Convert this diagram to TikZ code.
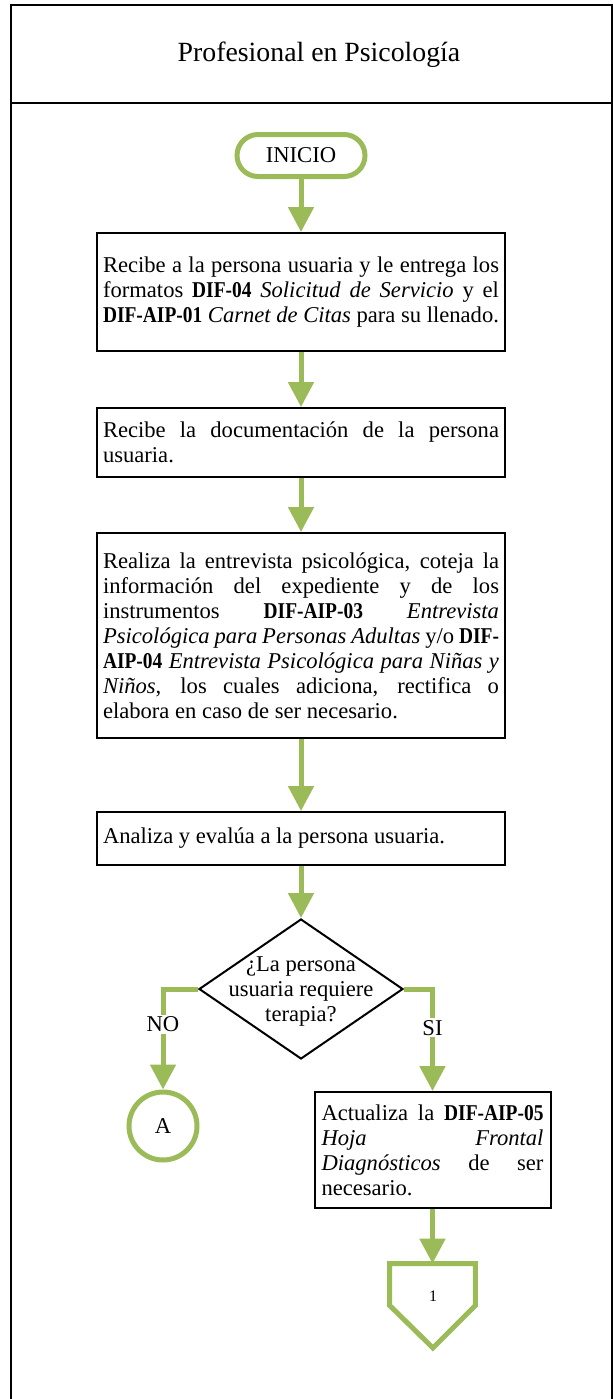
\documentclass[tikz,border=0pt]{standalone}
\usepackage{fontspec}
\setmainfont{Liberation Serif}[BoldFeatures={FakeStretch=0.86}]
\usetikzlibrary{shapes.geometric,arrows.meta}
\definecolor{verde}{RGB}{155,187,89}
\hyphenpenalty=10000
\exhyphenpenalty=10000

\begin{document}
\begin{tikzpicture}[x=0.5pt, y=-0.5pt,
    every node/.style={font=\fontsize{11.3}{12.5}\selectfont},
    marco/.style={draw, line width=0.8pt},
    proceso/.style={draw, line width=1pt, text width=198pt, align=justify, inner xsep=3pt, inner ysep=2pt},
    decision/.style={draw, diamond, line width=1pt, minimum width=102pt, minimum height=70pt, inner sep=0pt},
    inicio/.style={draw=verde, line width=2.5pt, rounded corners=10.5pt, minimum width=64pt, minimum height=21pt},
    conector/.style={draw=verde, circle, line width=2.5pt, minimum size=34pt, inner sep=0pt},
    pagina/.style={draw=verde, line width=2.5pt, line join=miter},
    flecha/.style={color=verde, line width=2.5pt, -{Triangle[length=12.5pt,width=12.5pt]}},
    etiqueta/.style={fill=white, text=black, inner sep=1pt}]
		\useasboundingbox (0,0) rectangle (613,1399);
		
		% encabezado
		\draw[marco] (11,1410) -- (11,5) -- (612,5) -- (612,1410);
		\draw[marco] (11,103) -- (612,103);
		\node[font=\fontsize{13.9}{15}\selectfont] (titulo) at (319,55) {Profesional en Psicología};
		
		\node[inicio] (INI) at (301,155.5) {INICIO};
		\node[proceso, minimum height=59pt] (B1) at (301,292) {Recibe a la persona usuaria y le entrega los\linebreak formatos \textbf{DIF-04} \textit{Solicitud de Servicio} y el\linebreak \textbf{DIF-AIP-01} \textit{Carnet de Citas} para su llenado.};
		\node[proceso, minimum height=34.5pt] (B2) at (301,442.5) {Recibe la documentación de la persona\linebreak usuaria.};
		\node[proceso, minimum height=102.5pt] (B3) at (301,635.5) {Realiza la entrevista psicológica, coteja la\linebreak información del expediente y de los\linebreak instrumentos \textbf{DIF-AIP-03} \textit{Entrevista}\linebreak \textit{Psicológica para Personas Adultas} y/o \textbf{DIF-}\linebreak \textbf{AIP-04} \textit{Entrevista Psicológica para Niñas y}\linebreak \textit{Niños}, los cuales adiciona, rectifica o\linebreak elabora en caso de ser necesario.};
		\node[proceso, minimum height=26.5pt] (B4) at (301,838.5) {Analiza y evalúa a la persona usuaria.};
		\node[decision] (D) at (301,989) {};
		\node[align=center] (Dtxt) at (301,991) {¿La persona\\usuaria requiere\\terapia?};
		\node[conector] (A) at (163,1126) {A};
		\node[proceso, text width=111pt, inner xsep=3.5pt, minimum height=58pt] (B5) at (432.5,1150) {Actualiza la \textbf{DIF-AIP-05}\linebreak \textit{Hoja} \textit{Frontal}\linebreak \textit{Diagnósticos} de ser\linebreak necesario.};
		\node[minimum width=42.5pt, minimum height=20.5pt, inner sep=0pt] (P1) at (432.5,1284.5) {};
		\draw[pagina] (P1.south west) -- (P1.north west) -- (P1.north east) -- (P1.south east) -- ++(-42.5,42.5) -- cycle;
		\node[font=\fontsize{8}{9}\selectfont] (uno) at (433,1296) {1};
		
		\path [flecha] (INI) edge (B1);
		\path [flecha] (B1) edge (B2);
		\path [flecha] (B2) edge (B3);
		\path [flecha] (B3) edge (B4);
		\path [flecha] (B4) edge (D);
		\draw [flecha] (D.west) -| node[etiqueta, pos=0.675] {NO} (A.north);
		\draw [flecha] (D.east) -| node[etiqueta, pos=0.69] {SI} (B5.north);
		\draw [flecha] (B5.south) -- (P1.north);
		\end{tikzpicture}
\end{document}
